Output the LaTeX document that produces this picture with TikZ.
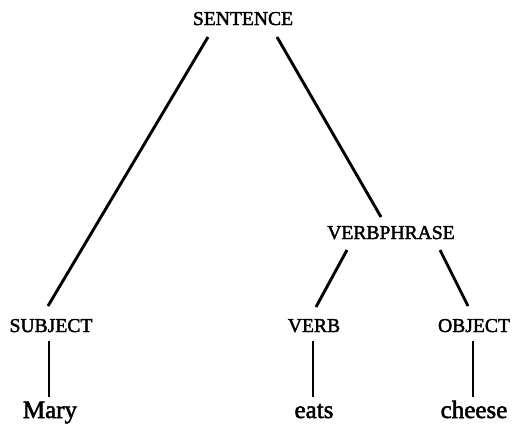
\documentclass[tikz,border=0pt]{standalone}
\usepackage{fontspec}
\setmainfont{Liberation Serif}[FakeBold=2]
\begin{document}
\begin{tikzpicture}[x=1pt,y=-1pt,
  cat/.style={anchor=base,inner sep=0pt,font=\fontsize{19.6}{20}\selectfont},
  word/.style={anchor=base,inner sep=0pt,font=\fontsize{25}{27}\selectfont},
  branch/.style={line width=2.9pt}]
\useasboundingbox[fill=white] (0,0) rectangle (512,424);
% category labels
\node[cat] (sent) at (243,25) {SENTENCE};
\node[cat] (vp)   at (391,239) {VERBPHRASE};
\node[cat] (subj) at (51,332) {SUBJECT};
\node[cat] (verb) at (314,332) {VERB};
\node[cat] (obj)  at (474,332) {OBJECT};
% words
\node[word] (mary)   at (50,418) {Mary};
\node[word] (eats)   at (314,418) {eats};
\node[word] (cheese) at (474,418) {cheese};
% branches
\draw[branch] ([xshift=-35pt,yshift=-12pt]sent.base) -- ([xshift=-3pt,yshift=26pt]subj.base);
\draw[branch] ([xshift=34pt,yshift=-12pt]sent.base) -- ([xshift=-10pt,yshift=22pt]vp.base);
\draw[branch] ([xshift=-44pt,yshift=-11pt]vp.base) -- ([xshift=2pt,yshift=25pt]verb.base);
\draw[branch] ([xshift=49pt,yshift=-11pt]vp.base) -- ([xshift=-6pt,yshift=26pt]obj.base);
\draw[branch] ([xshift=-2pt,yshift=-9pt]subj.base) -- ([xshift=-1pt,yshift=21pt]mary.base);
\draw[branch] ([xshift=-1pt,yshift=-9pt]verb.base) -- ([xshift=-1pt,yshift=21pt]eats.base);
\draw[branch] ([xshift=-1pt,yshift=-9pt]obj.base) -- ([xshift=-1pt,yshift=21pt]cheese.base);
\end{tikzpicture}
\end{document}
